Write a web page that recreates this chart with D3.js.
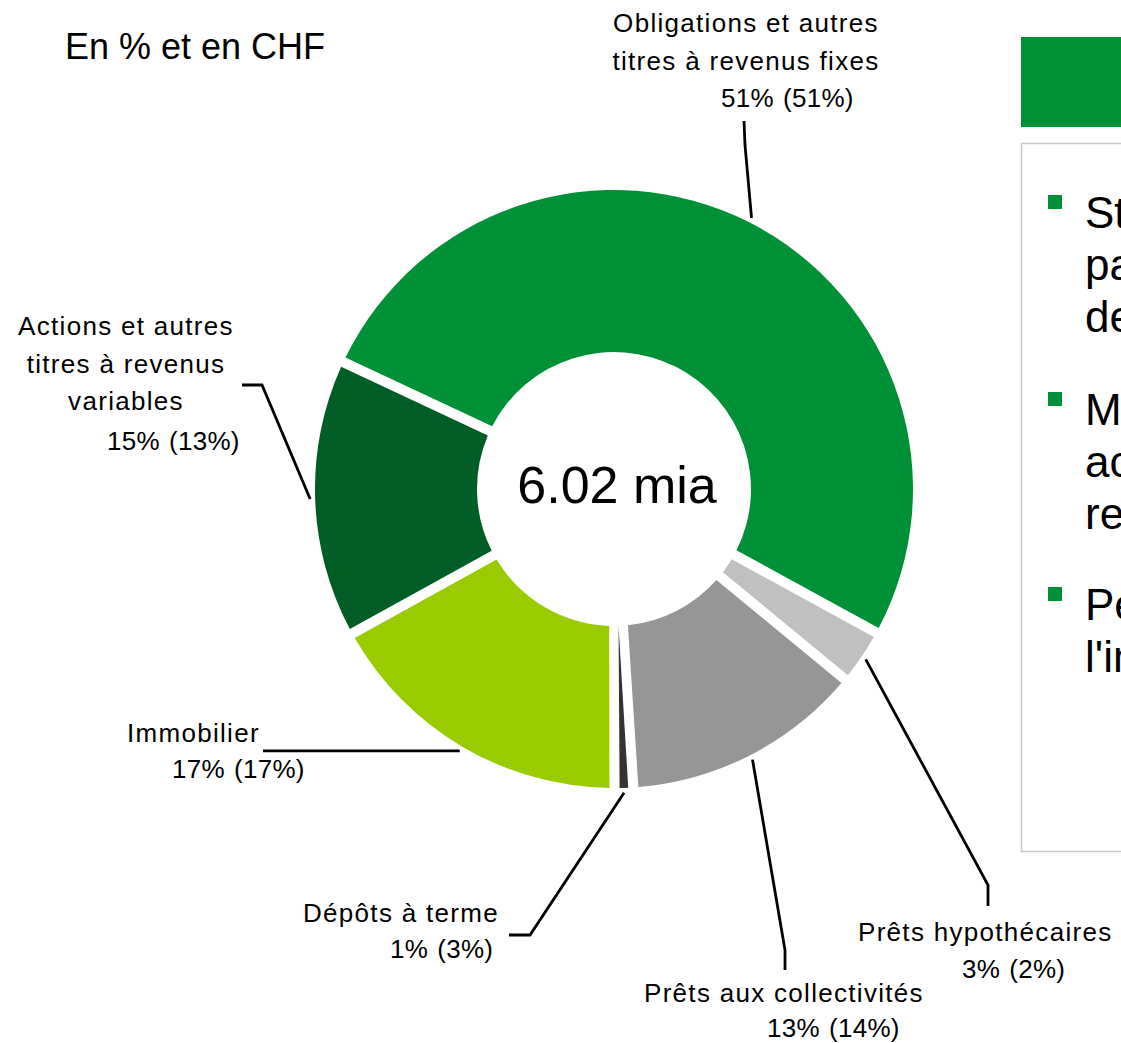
<!DOCTYPE html>
<html>
<head>
<meta charset="utf-8">
<script src="https://cdn.jsdelivr.net/npm/d3@7"></script>
<style>
  body { margin: 0; background: #fff; overflow: hidden; }
  svg { display: block; font-family: "Liberation Sans", Arial, sans-serif; }
</style>
</head>
<body>
<div id="chart"></div>
<script>
// Data (clockwise, starting with the big slice)
var categories = ["Obligations", "Prêts hypothécaires", "Prêts aux collectivités", "Dépôts à terme", "Immobilier", "Actions"];
var shares = [51, 3, 13, 1, 17, 15];
var previousShares = [51, 2, 14, 3, 17, 13];
var colors = ["#009036", "#c0c0c0", "#969696", "#333333", "#99cc00", "#005e25"];
var labelLines = [
    ["Obligations et autres", "titres à revenus fixes"],
    ["Prêts hypothécaires"],
    ["Prêts aux collectivités"],
    ["Dépôts à terme"],
    ["Immobilier"],
    ["Actions et autres", "titres à revenus", "variables"]
];
var totalLabel = "6.02 mia";

// Layout of the labels and leader elbows
var labelPos = [
    { x: 746, y: 32, anchor: "middle", px: 721, py: 107, elbow: [[744, 121], [745, 145]] },
    { x: 858, y: 941, anchor: "start", px: 962, py: 978, elbow: [[988, 906], [988, 885]] },
    { x: 644, y: 1002, anchor: "start", px: 767, py: 1037, elbow: [[785, 970], [785, 950]] },
    { x: 303, y: 922, anchor: "start", px: 390, py: 958, elbow: [[509, 935], [530, 935]] },
    { x: 127, y: 742, anchor: "start", px: 172, py: 778, elbow: [[263, null]] },
    { x: 126, y: 335, anchor: "middle", px: 107, py: 450, elbow: [[242, 385], [262, 385]] }
];

var svgWidth = 1121;
var svgHeight = 1043;
var cx = 614, cy = 489;
var outerR = 299, innerR = 137;
var lineH = 37.5;

var svg = d3.select("#chart")
    .append("svg")
    .attr("width", svgWidth)
    .attr("height", svgHeight);

// subtitle
svg.append("text")
    .attr("x", 65)
    .attr("y", 59)
    .attr("font-size", 36)
    .attr("fill", "#000")
    .text("En % et en CHF");

// donut
var startA = -64.9 * Math.PI / 180;
var pie = d3.pie()
    .sort(null)
    .value(d => d)
    .startAngle(startA)
    .endAngle(startA + 2 * Math.PI);

var arcs = pie(shares);

var arc = d3.arc()
    .innerRadius(innerR)
    .outerRadius(outerR)
    .padAngle(0.034)
    .padRadius(outerR);

var chartGroup = svg.append("g")
    .attr("transform", `translate(${cx}, ${cy})`);

chartGroup.selectAll("path")
    .data(arcs)
    .enter()
    .append("path")
    .attr("d", arc)
    .attr("fill", (d, i) => colors[i]);

chartGroup.append("text")
    .attr("x", 3)
    .attr("y", 14)
    .attr("text-anchor", "middle")
    .attr("font-size", 52)
    .attr("fill", "#000")
    .text(totalLabel);

// leader lines, starting at the middle of each slice's outer edge
var edgeArc = d3.arc().innerRadius(outerR + 5).outerRadius(outerR + 5);

arcs.forEach(function(d, i) {
    var c = edgeArc.centroid(d);
    var end = [c[0] + cx, c[1] + cy];
    // a null y in an elbow keeps the segment flat
    var pts = labelPos[i].elbow.map(p => [p[0], p[1] === null ? end[1] : p[1]]);
    pts.push(end);
    svg.append("path")
        .attr("d", d3.line()(pts))
        .attr("fill", "none")
        .attr("stroke", "#000")
        .attr("stroke-width", 2.8);
});

// labels
var labels = svg.append("g")
    .attr("font-size", 26)
    .attr("letter-spacing", 1.3)
    .attr("fill", "#000");

categories.forEach(function(cat, i) {
    var p = labelPos[i];
    labelLines[i].forEach(function(line, j) {
        labels.append("text")
            .attr("x", p.x)
            .attr("y", p.y + j * lineH)
            .attr("text-anchor", p.anchor)
            .text(line);
    });
    var t = labels.append("text")
        .attr("x", p.px)
        .attr("y", p.py)
        .attr("letter-spacing", 0.3);
    t.append("tspan").text(shares[i] + "%");
    t.append("tspan").attr("dx", 9).text("(" + previousShares[i] + "%)");
});

// right panel (cut by the page edge)
svg.append("rect")
    .attr("x", 1021)
    .attr("y", 37)
    .attr("width", 200)
    .attr("height", 90)
    .attr("fill", "#009036");

svg.append("rect")
    .attr("x", 1021.5)
    .attr("y", 143.5)
    .attr("width", 200)
    .attr("height", 708)
    .attr("fill", "none")
    .attr("stroke", "#c8c8c8")
    .attr("stroke-width", 1.5);

var bullets = [
    ["Structure stable", "par rapport à", "des années"],
    ["Moins d'obligations,", "actions et titres à", "revenus variables"],
    ["Perte de valeur dans", "l'immobilier"]
];
var bulletTop = [228, 425, 620];
var bulletLineH = 52;

bullets.forEach(function(lines, i) {
    svg.append("rect")
        .attr("x", 1048)
        .attr("y", bulletTop[i] - 33)
        .attr("width", 14)
        .attr("height", 14)
        .attr("fill", "#009036");
    lines.forEach(function(line, j) {
        svg.append("text")
            .attr("x", 1085)
            .attr("y", bulletTop[i] + j * bulletLineH)
            .attr("font-size", 44)
            .attr("fill", "#000")
            .text(line);
    });
});
</script>
</body>
</html>
